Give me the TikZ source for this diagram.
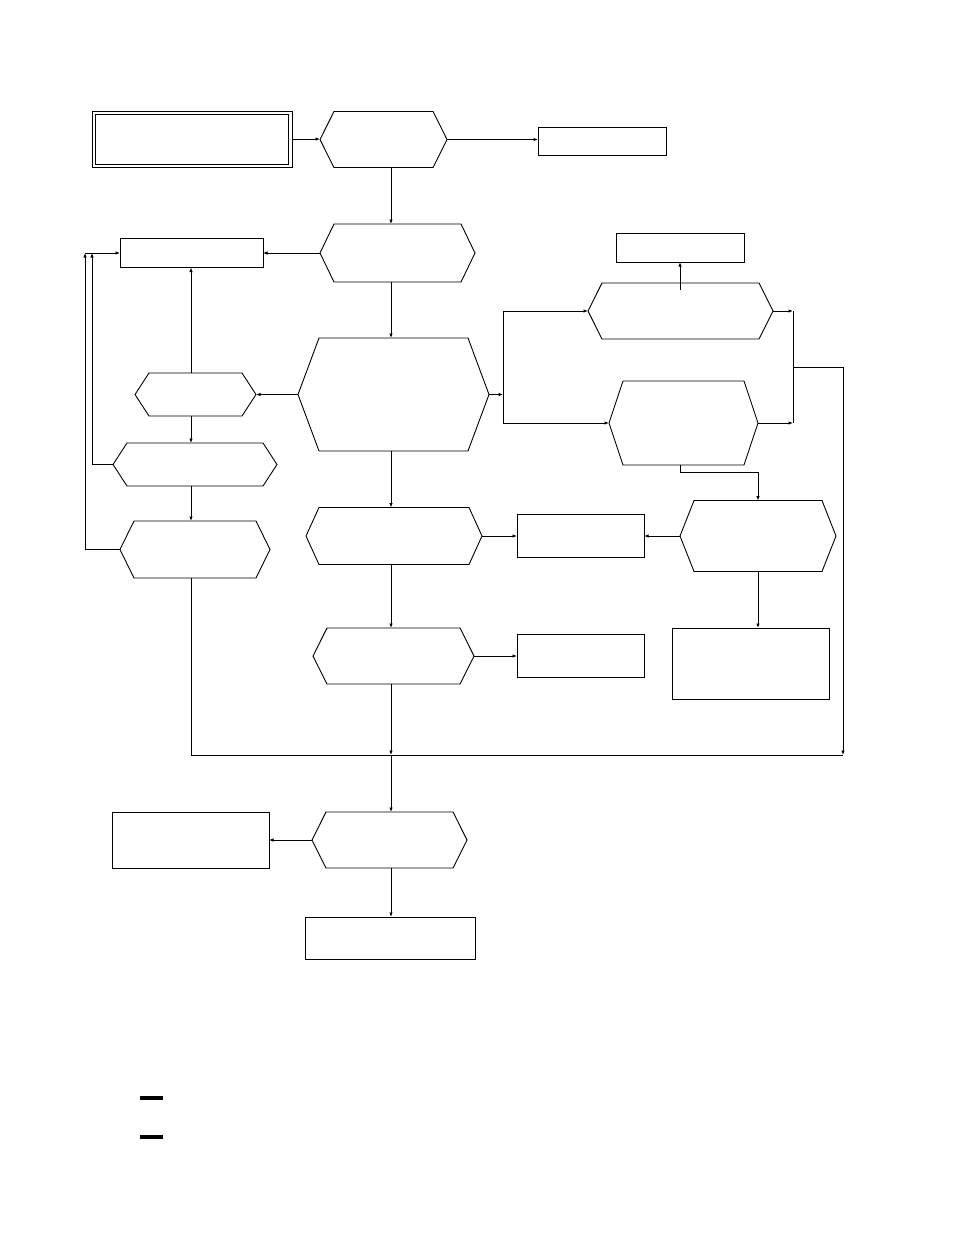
\documentclass[tikz,border=0pt]{standalone}
\usetikzlibrary{arrows.meta,shapes.symbols}
\begin{document}
\begin{tikzpicture}[x=1pt,y=-1pt,line width=.9pt,
box/.style={draw,rectangle,inner sep=0pt,outer sep=0pt},
hexa/.style={draw,signal,signal to=west and east,signal from=nowhere,inner sep=0pt,outer sep=0pt},
arr/.style={-{Latex[length=4.5pt,width=3.5pt]}}]
\useasboundingbox (0,0) rectangle (954,1235);
\coordinate(spine)at(391,0);\coordinate(lspine)at(191,0);
\node[box,line width=.8pt,minimum width=200pt,minimum height=56pt](entry)at(192,139){};
\node[box,line width=.8pt,minimum width=193pt,minimum height=50pt](entryin)at(entry.center){};
\node[hexa,minimum width=127pt,minimum height=56pt,signal pointer angle=126.9](gate)at(383.5,139.5){};
\node[box,minimum width=128pt,minimum height=28pt](side)at(602,141){};
\node[hexa,minimum width=155pt,minimum height=58pt,signal pointer angle=128.5](sort)at(397.5,253){};
\node[box,minimum width=143pt,minimum height=29pt](hold)at(191.5,253){};
\node[hexa,minimum width=191pt,minimum height=113pt,signal pointer angle=139.2](core)at(393.5,394.5){};
\node[hexa,minimum width=121pt,minimum height=43pt,signal pointer angle=113.9](lone)at(195.5,394.5){};
\node[hexa,minimum width=164pt,minimum height=43pt,signal pointer angle=113.9](ltwo)at(195,464.5){};
\node[hexa,minimum width=150pt,minimum height=57pt,signal pointer angle=127.7](lthree)at(195,549.5){};
\node[hexa,minimum width=176pt,minimum height=57pt,signal pointer angle=131](mone)at(394,536){};
\node[hexa,minimum width=161pt,minimum height=56pt,signal pointer angle=126.9](mtwo)at(393.5,656){};
\node[box,minimum width=127pt,minimum height=43pt](pool)at(580.5,536){};
\node[box,minimum width=127pt,minimum height=43pt](spill)at(580.5,656){};
\node[hexa,minimum width=185pt,minimum height=56pt,signal pointer angle=126.9](rup)at(680.5,311){};
\node[box,minimum width=128pt,minimum height=29pt](flag)at(680,247.5){};
\node[hexa,minimum width=149pt,minimum height=84pt,signal pointer angle=143.1](rlow)at(683.5,423){};
\node[hexa,minimum width=156pt,minimum height=71pt,signal pointer angle=136.9](rmid)at(758,536){};
\node[box,minimum width=157pt,minimum height=71pt](note)at(750.5,663.5){};
\node[hexa,minimum width=155pt,minimum height=56pt,signal pointer angle=126.9](last)at(389.5,840){};
\node[box,minimum width=157pt,minimum height=56pt](reject)at(190.5,840){};
\node[box,minimum width=170pt,minimum height=42pt](done)at(390,938){};
\coordinate(fbA)at(92,253);\coordinate(fbB)at(85,253);
\coordinate(fork)at(503,394.5);\coordinate(forkup)at(503,311);\coordinate(forklow)at(503,423);
\coordinate(flagup)at(680,290);
\coordinate(joinup)at(793,311);\coordinate(joinlow)at(793,423);\coordinate(joinmid)at(793,367);
\coordinate(bus)at(391,755);\coordinate(busL)at(191,755);\coordinate(busR)at(843,755);
\draw[arr](entry.east)--(entry.east-|gate.west);
\draw[arr](gate.east)--(gate.east-|side.west);
\draw[arr](gate.south-|spine)--(sort.north-|spine);
\draw[arr](sort)--(hold);
\draw[arr](sort.south-|spine)--(core.north-|spine);
\draw[arr](core)--(lone);
\draw[arr](lone.north-|lspine)--(hold.south-|lspine);
\draw[arr](lone.south-|lspine)--(ltwo.north-|lspine);
\draw[arr](ltwo.south-|lspine)--(lthree.north-|lspine);
\draw[arr](ltwo.west)-|(fbA);
\draw[arr](lthree.west)-|(fbB);
\draw[arr](fbB)--(hold.west);
\draw[arr](core.east)--(fork);
\draw(forkup)--(forklow);
\draw[arr](forkup)--(rup.west);
\draw[arr](forklow)--(rlow.west);
\draw[arr](flagup)--(flag.south-|flagup);
\draw[arr](rup.east)--(joinup);
\draw[arr](rlow.east)--(joinlow);
\draw(joinup)--(joinlow);
\draw[arr](joinmid)-|(busR);
\draw[arr](rlow.south-|flagup)--++(0,7)-|(rmid.north);
\draw[arr](rmid.west)--(pool.east);
\draw[arr](mone.east)--(pool.west);
\draw[arr](rmid.south)--(rmid.south|-note.north);
\draw[arr](core.south-|spine)--(mone.north-|spine);
\draw[arr](mone.south-|spine)--(mtwo.north-|spine);
\draw[arr](mtwo.east)--(spill.west);
\draw[arr](mtwo.south-|spine)--(bus);
\draw(busL)--(busR);
\draw(lthree.south-|lspine)--(busL);
\draw[arr](bus)--(last.north-|spine);
\draw[arr](last.west)--(reject.east);
\draw[arr](last.south-|spine)--(done.north-|spine);
\foreach \yy in {1098,1137}{\draw[line width=4pt](140,\yy)--(163,\yy);}
\end{tikzpicture}
\end{document}
